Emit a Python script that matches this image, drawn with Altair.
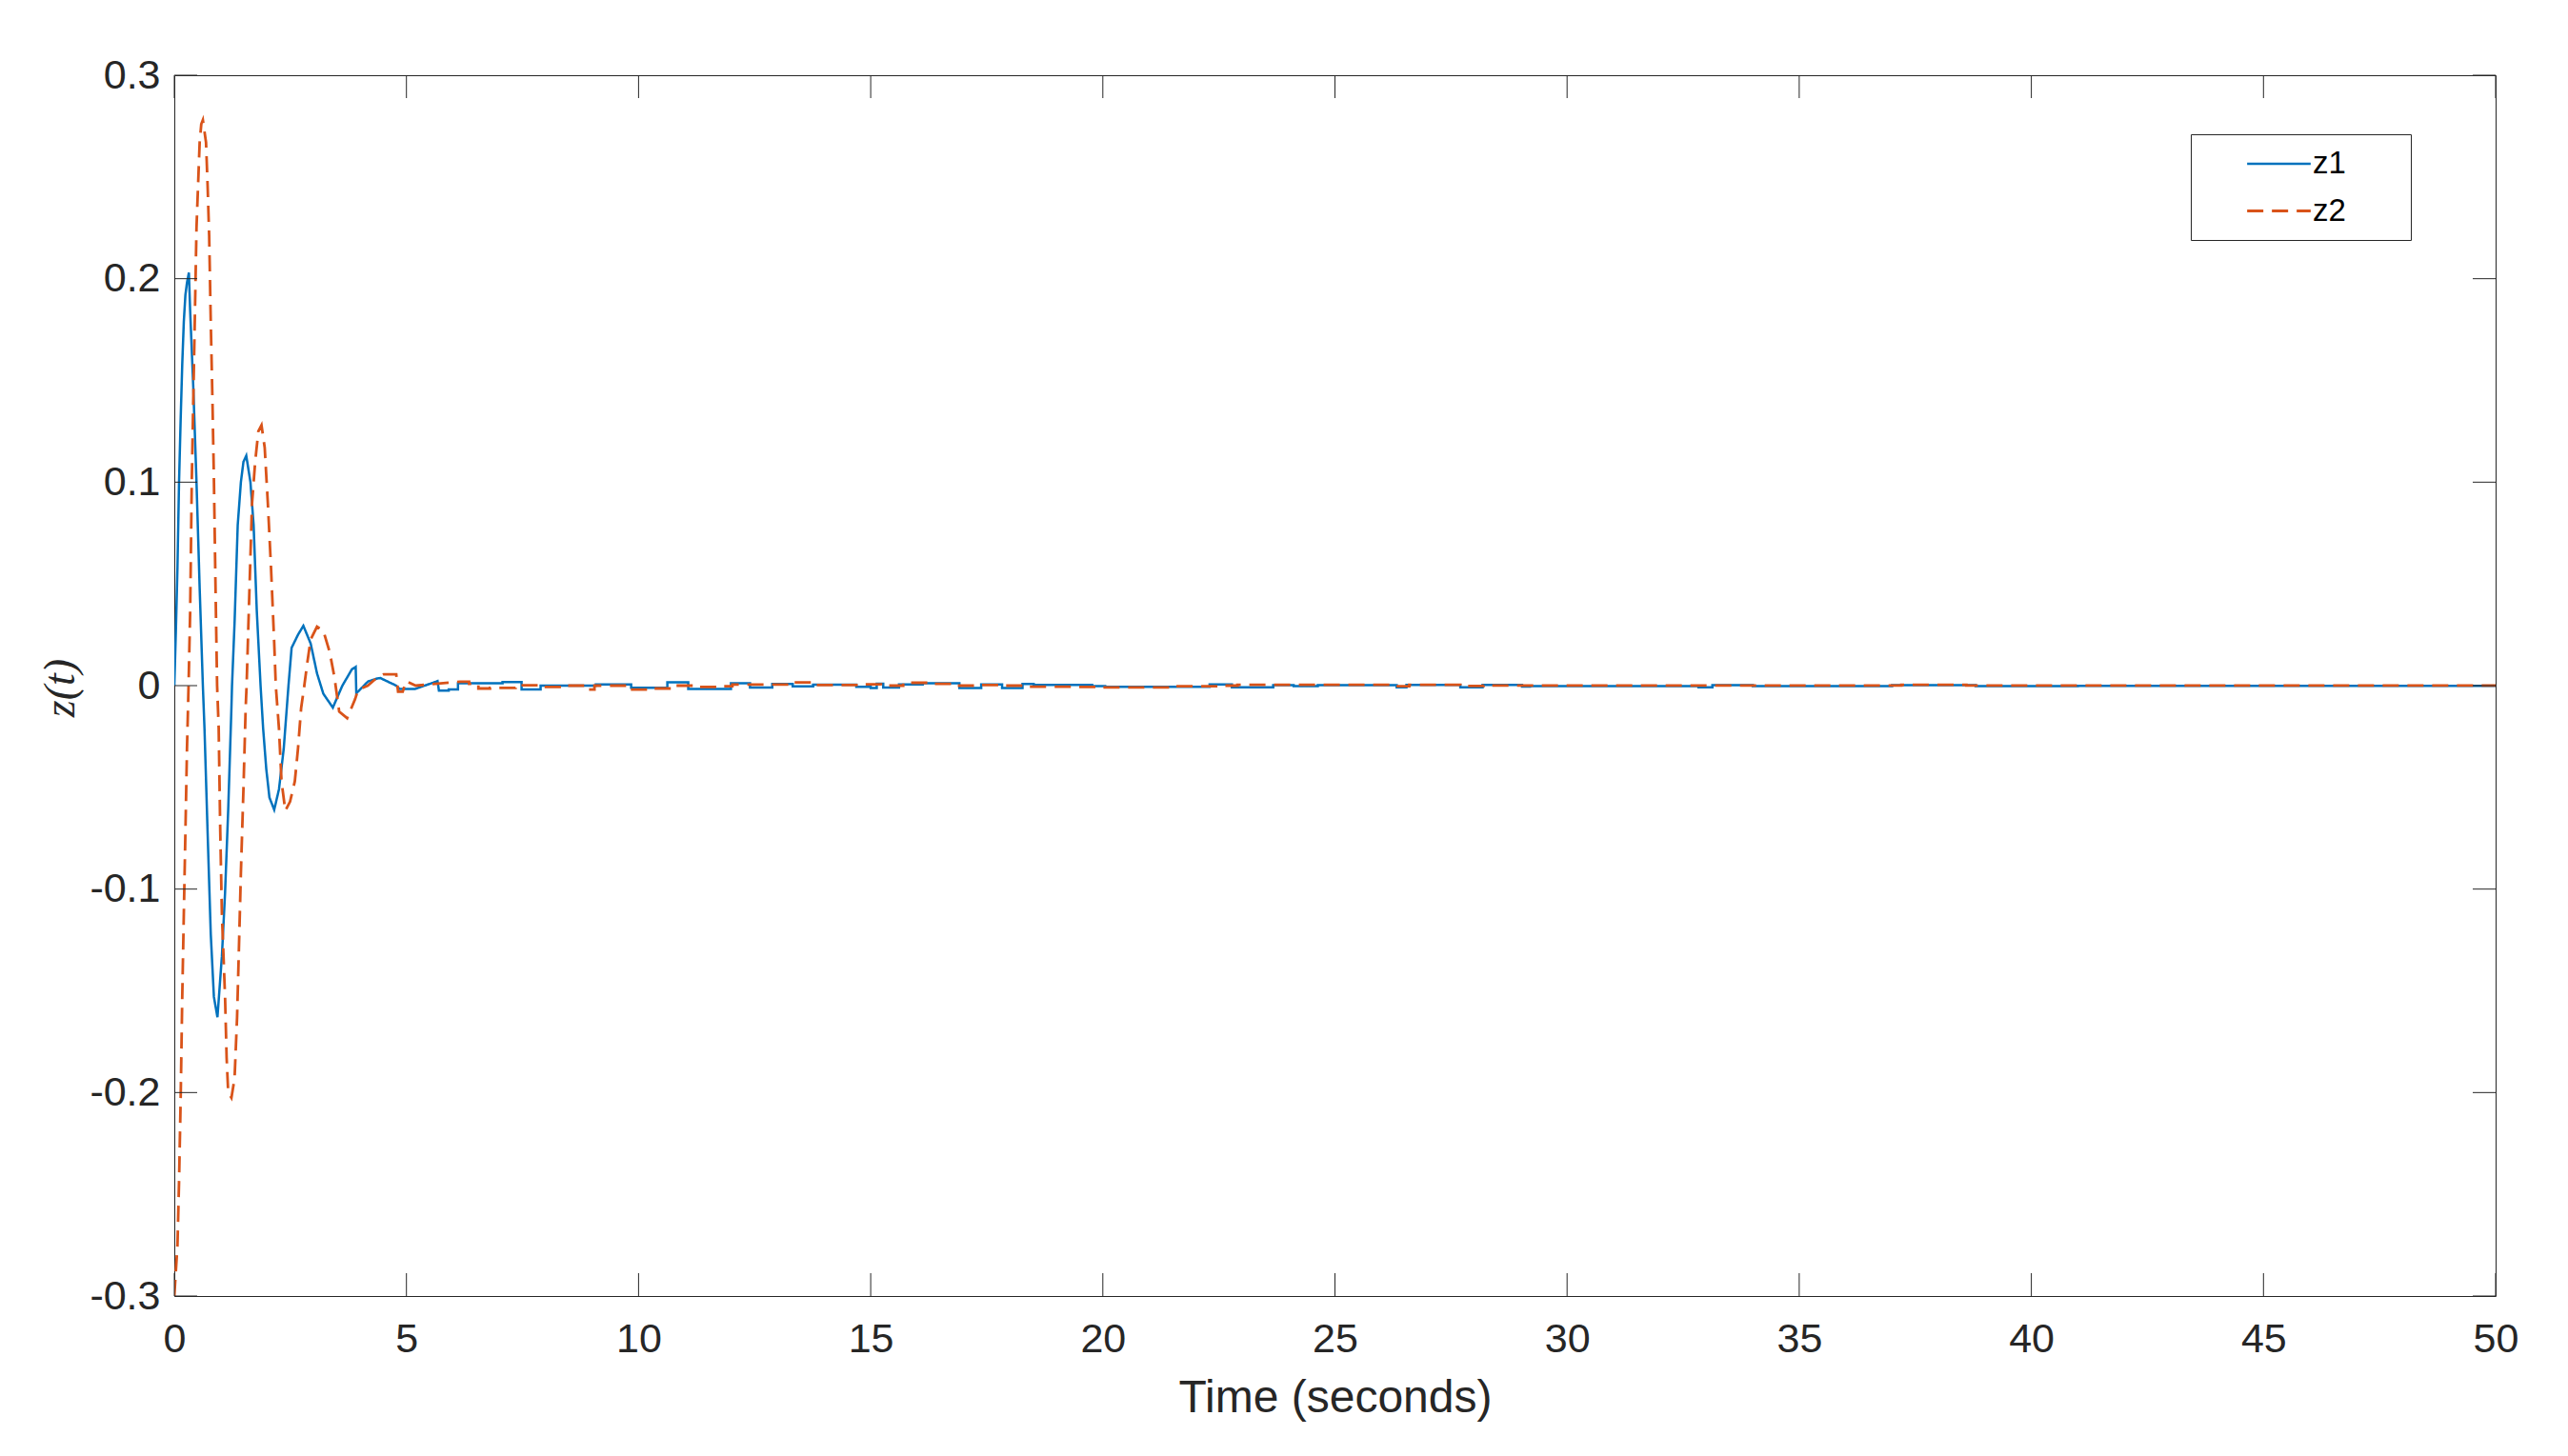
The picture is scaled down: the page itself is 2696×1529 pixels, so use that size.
import altair as alt
import pandas as pd

# ---------------- data ----------------
series = ["z1", "z2"]
colors = ["#0072BD", "#D95319"]
dashes = [[1, 0], [17, 9]]

# z1: oscillating start (smooth part)
z1_t = [0.0, 0.034, 0.068, 0.102, 0.137, 0.171, 0.205, 0.239, 0.273, 0.314,
        0.34, 0.41, 0.478, 0.546, 0.615, 0.65, 0.717, 0.785, 0.853, 0.929,
        1.025, 1.093, 1.161, 1.23, 1.243, 1.298, 1.366, 1.434, 1.489, 1.55,
        1.64, 1.708, 1.776, 1.858, 1.913, 1.981, 2.049, 2.152, 2.254, 2.357,
        2.459, 2.527, 2.664, 2.78, 2.937, 3.074, 3.21, 3.415, 3.62, 3.825,
        3.907, 3.92, 4.17, 4.37, 4.44, 4.78, 4.85, 5.19, 5.67]
z1_v = [0.0, 0.027, 0.058, 0.10, 0.131, 0.158, 0.179, 0.192, 0.198, 0.203,
        0.185, 0.146, 0.10, 0.048, 0.0, -0.021, -0.072, -0.122, -0.153, -0.163,
        -0.133, -0.102, -0.061, -0.011, 0.0, 0.031, 0.079, 0.10, 0.11, 0.113,
        0.10, 0.079, 0.037, 0.0, -0.021, -0.041, -0.055, -0.061, -0.051, -0.031,
        0.0, 0.0186, 0.025, 0.0294, 0.0207, 0.006, -0.004, -0.0108, 0.0, 0.008,
        0.0092, -0.0038, 0.002, 0.0035, 0.0037, 0.0, -0.0016, -0.0016, 0.0022]
# z1: small step-like residual (level starts)
z1_step_t = [5.70, 5.91, 6.11, 7.07, 7.48, 7.89, 9.08, 9.84, 10.62, 11.07,
             11.99, 12.40, 12.88, 13.32, 13.76, 14.69, 15.0, 15.13, 15.27, 15.61,
             16.12, 16.91, 17.38, 17.83, 18.27, 18.51, 19.77, 20.05, 22.30, 22.78,
             23.67, 24.11, 24.63, 26.33, 26.54, 27.70, 28.18, 29.03, 29.2, 32.83,
             33.13, 34.0, 37.0, 38.8, 41.0]
z1_step_v = [-0.0025, -0.0019, 0.0012, 0.0017, -0.0019, 0.0, 0.0006, -0.0011, 0.0016, -0.0016,
             0.0012, -0.0009, 0.0008, -0.0003, 0.0005, -0.0006, -0.0012, 0.0009, -0.0009, 0.0006,
             0.0012, -0.0012, 0.0006, -0.0012, 0.0008, 0.0003, -0.0002, -0.0006, 0.0006, -0.0008,
             0.0002, -0.0002, 0.0002, -0.0008, 0.0003, -0.0008, 0.0003, -0.0005, -0.0002, -0.0008,
             0.0002, -0.0002, 0.0002, -0.0002, -0.0001]

# z2: oscillating start (smooth part)
z2_t = [0.0, 0.068, 0.102, 0.137, 0.171, 0.205, 0.239, 0.273, 0.307, 0.342,
        0.376, 0.41, 0.444, 0.478, 0.512, 0.546, 0.581, 0.615, 0.683, 0.717,
        0.751, 0.785, 0.82, 0.854, 0.888, 0.922, 0.956, 0.99, 1.025, 1.093,
        1.127, 1.161, 1.23, 1.298, 1.352, 1.40, 1.434, 1.489, 1.537, 1.557,
        1.605, 1.674, 1.742, 1.81, 1.878, 1.947, 2.015, 2.083, 2.152, 2.186,
        2.254, 2.309, 2.391, 2.493, 2.596, 2.664, 2.732, 2.80, 2.869, 2.937,
        3.074, 3.21, 3.347, 3.45, 3.552, 3.723, 3.893, 3.96, 4.166, 4.37,
        4.51, 4.78, 4.82, 4.92, 4.99, 5.2]
z2_v = [-0.3, -0.275, -0.244, -0.203, -0.153, -0.112, -0.072, -0.031, 0.0, 0.037,
        0.10, 0.142, 0.183, 0.225, 0.246, 0.267, 0.276, 0.278, 0.267, 0.246,
        0.221, 0.179, 0.142, 0.10, 0.048, 0.0, -0.021, -0.072, -0.112, -0.153,
        -0.183, -0.20, -0.2026, -0.193, -0.163, -0.122, -0.092, -0.051, -0.011, 0.0,
        0.037, 0.0895, 0.11, 0.125, 0.128, 0.117, 0.0895, 0.058, 0.021, 0.0,
        -0.021, -0.047, -0.0615, -0.057, -0.047, -0.031, -0.011, 0.0, 0.012, 0.0227,
        0.029, 0.027, 0.0165, 0.004, -0.0128, -0.016, -0.0067, -0.002, 0.0, 0.004,
        0.0056, 0.0056, -0.003, -0.003, 0.0022, 0.0]
z2_step_t = [6.15, 6.35, 6.55, 6.8, 7.35, 7.85, 8.3, 8.8, 9.05, 9.75,
             10.2, 10.72, 11.2, 11.75, 12.02, 13.3, 13.8, 14.8, 15.22, 15.7,
             16.25, 16.8, 17.3, 17.8, 18.35, 19.35, 19.9, 21.5, 22.5, 22.9,
             26.3, 26.6, 27.7, 28.2, 37.2, 38.6]
z2_step_v = [0.0019, 0.0009, -0.0014, -0.0011, 0.0002, -0.0006, 0.0, -0.0019, 0.0, -0.0019,
             -0.0014, 0.0, -0.0006, -0.0003, 0.0005, 0.0016, 0.0003, 0.0006, 0.0, 0.0014,
             0.0009, 0.0, 0.0003, 0.0, -0.0005, -0.0006, -0.0009, -0.0003, 0.0, 0.0004,
             -0.0003, 0.0004, -0.0002, 0.0001, 0.0004, 0.0001]
t_end = 50.0

x_ticks = [0, 5, 10, 15, 20, 25, 30, 35, 40, 45, 50]
y_ticks = [-0.3, -0.2, -0.1, 0.0, 0.1, 0.2, 0.3]

# ---------------- build tables ----------------
def build(name, ts, vs, st, sv):
    rows = [(t, v) for t, v in zip(ts, vs)]
    for i, (s, v) in enumerate(zip(st, sv)):
        e = st[i + 1] if i + 1 < len(st) else t_end
        rows.append((s, v))
        rows.append((e, v))
    return pd.DataFrame({"t": [r[0] for r in rows], "z": [r[1] for r in rows],
                         "series": name, "i": range(len(rows))})

df = pd.concat([build("z1", z1_t, z1_v, z1_step_t, z1_step_v),
                build("z2", z2_t, z2_v, z2_step_t, z2_step_v)], ignore_index=True)

W, H = 2437, 1282
TICK = 24
INK = "#262626"
SANS = "Liberation Sans"

xscale = alt.Scale(domain=[0, 50], nice=False, zero=False)
yscale = alt.Scale(domain=[-0.3, 0.3], nice=False, zero=False)

x_axis = alt.Axis(values=x_ticks, format="d", ticks=False, tickSize=0, domain=False,
                  grid=False, labelFont=SANS, labelFontSize=43, labelColor=INK,
                  labelPadding=58, labelBaseline="alphabetic", labelFlush=False,
                  labelOverlap=False,
                  title="Time (seconds)", titleFont=SANS, titleFontSize=48,
                  titleFontWeight="normal", titleColor=INK,
                  titleX=W / 2, titleY=121, titleBaseline="alphabetic")
y_axis = alt.Axis(values=y_ticks, ticks=False, tickSize=0, domain=False, grid=False,
                  labelExpr="datum.value == 0 ? '0' : (datum.value < 0 ? '-' : '') + format(abs(datum.value), '.1f')",
                  labelFont=SANS, labelFontSize=43, labelColor=INK,
                  labelPadding=15, labelFlush=False, labelOverlap=False,
                  title="z(t)", titleFont="Liberation Serif", titleFontStyle="italic",
                  titleFontSize=46, titleFontWeight="normal", titleColor=INK,
                  titleAngle=270, titleX=-120, titleY=643,
                  titleBaseline="middle", titleAlign="center")

legend = alt.Legend(
    title=None, orient="none", legendX=2117, legendY=62,
    symbolType="M-2,0H2", symbolSize=1112, symbolStrokeWidth=2,
    labelFont=SANS, labelFontSize=33, labelColor="#000000",
    labelExpr="datum.label + '" + "\u00a0" * 6 + "\u200b'",
    strokeColor=INK, fillColor="white", padding=13,
    rowPadding=14, symbolOffset=61, labelOffset=17,
)

lines = alt.Chart(df).mark_line(clip=True).encode(
    x=alt.X("t:Q", scale=xscale, axis=x_axis),
    y=alt.Y("z:Q", scale=yscale, axis=y_axis),
    color=alt.Color("series:N", scale=alt.Scale(domain=series, range=colors), legend=legend),
    strokeDash=alt.StrokeDash("series:N", scale=alt.Scale(domain=series, range=dashes), legend=legend),
    strokeWidth=alt.StrokeWidth("series:N", scale=alt.Scale(domain=series, range=[2.5, 2.8]), legend=None),
    order="i:Q",
)

ydf = pd.DataFrame({"v": y_ticks})
xdf = pd.DataFrame({"v": x_ticks})
tk = dict(color=INK, strokeWidth=1)
y_left = alt.Chart(ydf).mark_rule(**tk).encode(
    y=alt.Y("v:Q", scale=yscale, axis=y_axis), x=alt.value(0), x2=alt.value(TICK))
y_right = alt.Chart(ydf).mark_rule(**tk).encode(
    y=alt.Y("v:Q", scale=yscale, axis=y_axis), x=alt.value(W - TICK), x2=alt.value(W))
x_bottom = alt.Chart(xdf).mark_rule(**tk).encode(
    x=alt.X("v:Q", scale=xscale, axis=x_axis), y=alt.value(H - TICK), y2=alt.value(H))
x_top = alt.Chart(xdf).mark_rule(**tk).encode(
    x=alt.X("v:Q", scale=xscale, axis=x_axis), y=alt.value(0), y2=alt.value(TICK))

chart = alt.layer(lines, y_left, y_right, x_bottom, x_top).properties(
    width=W, height=H,
    autosize=alt.AutoSizeParams(type="none"),
    padding={"left": 175, "top": 71, "right": 60, "bottom": 150},
    background="white",
).configure_view(stroke=INK, strokeWidth=1)

chart.save("out.html", embed_options={"renderer": "svg", "actions": False})
